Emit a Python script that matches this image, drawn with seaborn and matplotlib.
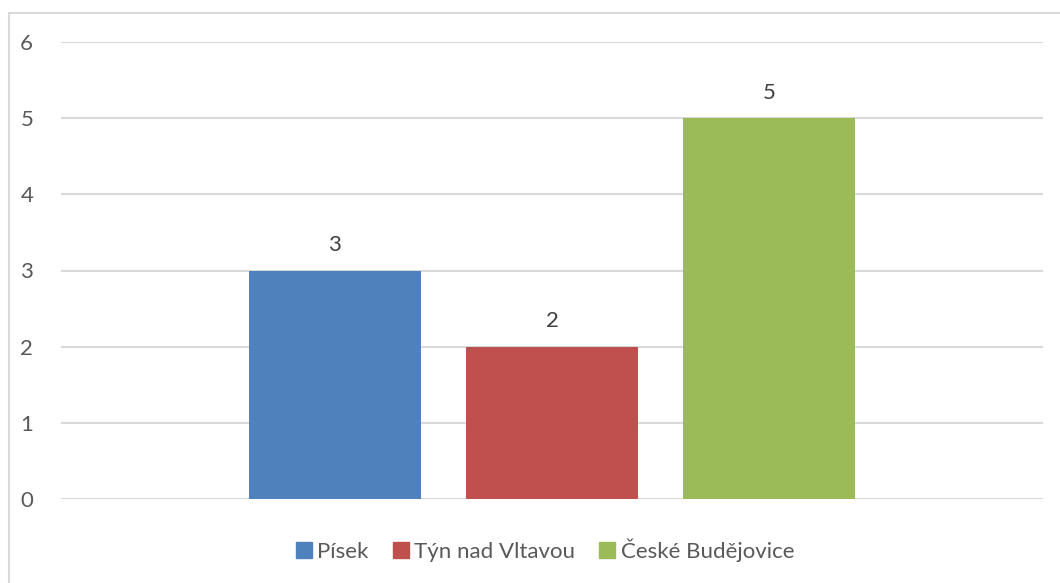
import matplotlib
matplotlib.use("Agg")
import matplotlib.pyplot as plt
import matplotlib.patches as mpatches
from matplotlib.lines import Line2D
import seaborn as sns
import pandas as pd

# data
cities = ["Písek", "Týn nad Vltavou", "České Budějovice"]
values = [3, 2, 5]
colors = ["#4F81BD", "#C0504D", "#9BBB59"]
yticks = [0, 1, 2, 3, 4, 5, 6]

df = pd.DataFrame({"city": cities, "value": values})

sns.set_style("white")
plt.rcParams["font.family"] = ["Lato", "DejaVu Sans"]

fig = plt.figure(figsize=(10.6, 5.83), dpi=100)
ax = fig.add_axes([61 / 1060, 84 / 583, (1043 - 61) / 1060, (499 - 42) / 583])

sns.barplot(data=df, x="city", y="value", hue="city", palette=colors,
            width=0.79, legend=False, ax=ax, saturation=1, linewidth=0)

ax.set_ylim(0, 6)
ax.set_xlim(-1.26, 3.26)
ax.set_yticks(yticks)
ax.set_yticklabels([str(t) for t in yticks], fontsize=16, color="#595959")
ax.tick_params(axis="y", length=0, pad=20)
ax.set_xticks([])
ax.set_xlabel("")
ax.set_ylabel("")
for s in ax.spines.values():
    s.set_visible(False)
ax.grid(axis="y", color="#d9d9d9", linewidth=1.5)
ax.set_axisbelow(True)

# value labels
for cont in ax.containers:
    ax.bar_label(cont, padding=11, fontsize=16, color="#404040")

# legend
handles = [Line2D([0], [0], marker="s", linestyle="", markersize=11,
                  markerfacecolor=c, markeredgecolor=c) for c in colors]
fig.legend(handles, cities, loc="center", bbox_to_anchor=(545 / 1060, 1 - 550 / 583),
           ncol=3, frameon=False, fontsize=16, labelcolor="#595959",
           handlelength=0.7, handletextpad=0.25, columnspacing=1.1)

# chart border
fig.patches.append(mpatches.Rectangle((9 / 1060, -0.1), 1.2, (583 - 13) / 583 + 0.1,
                                      transform=fig.transFigure, fill=False,
                                      edgecolor="#d9d9d9", linewidth=1.5))

fig.savefig("out.png", dpi=100)
